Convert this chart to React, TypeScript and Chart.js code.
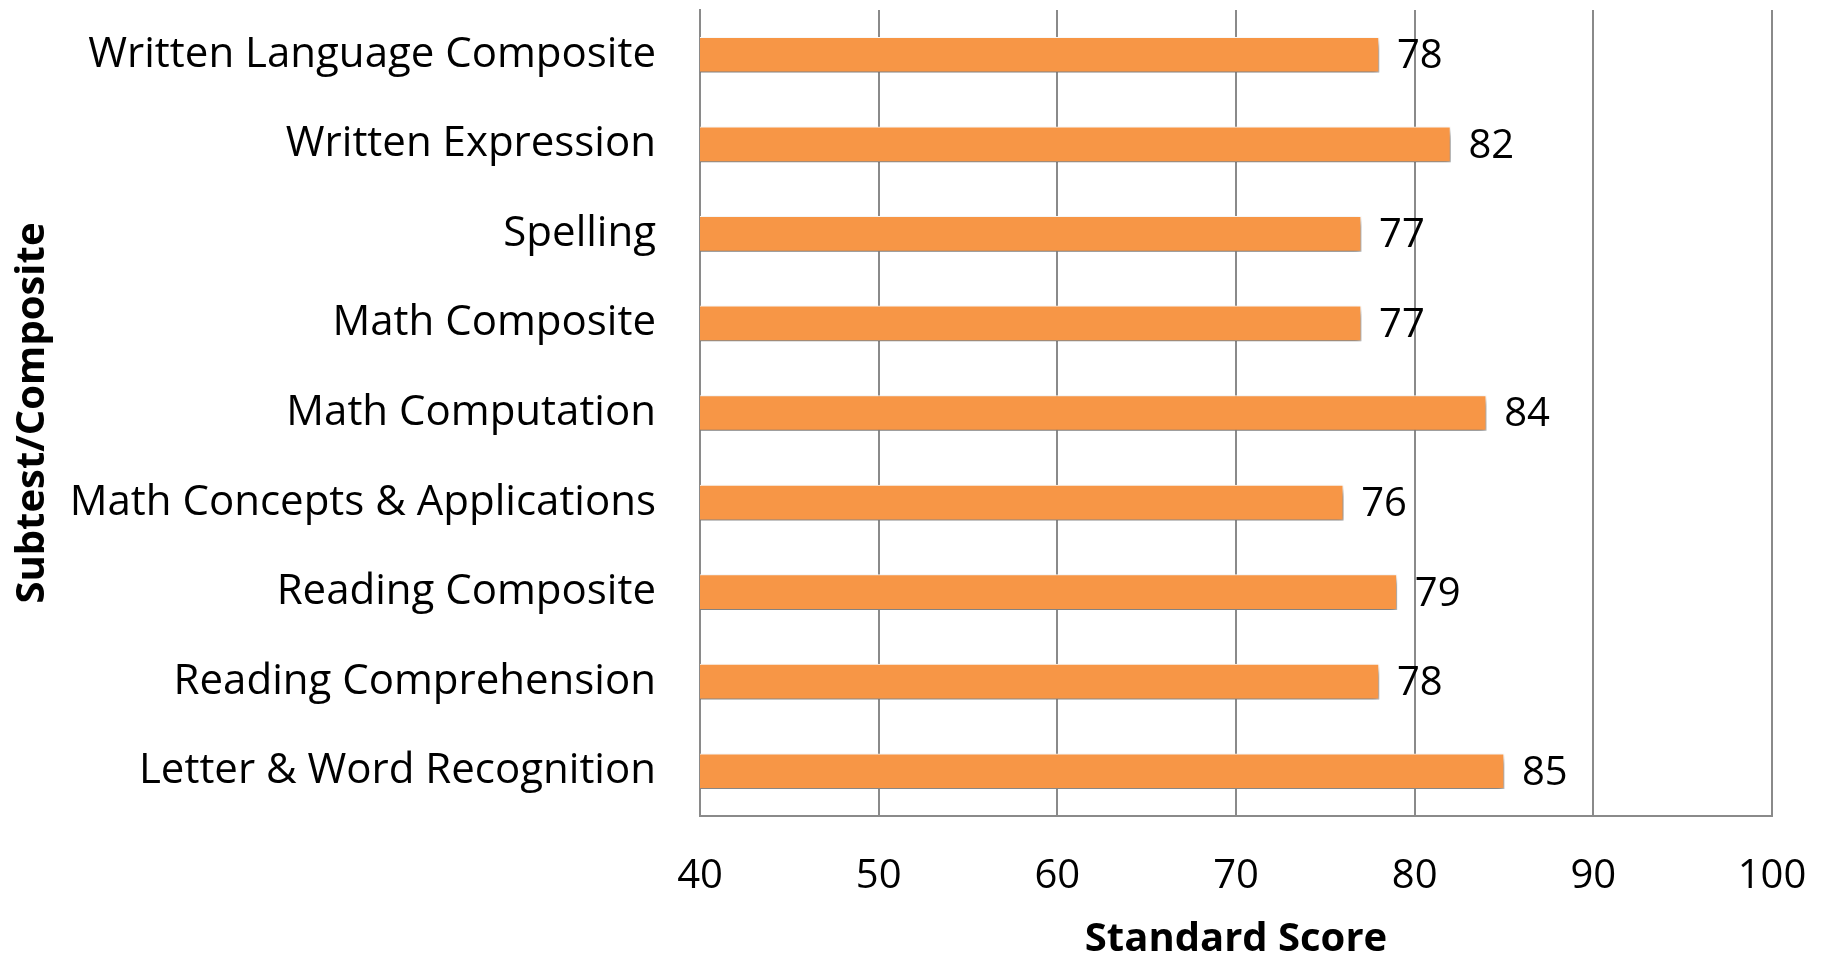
import React, { useEffect, useRef } from "react";
import { Chart, registerables } from "chart.js";

Chart.register(...registerables);

const categories = [
  "Written Language Composite",
  "Written Expression",
  "Spelling",
  "Math Composite",
  "Math Computation",
  "Math Concepts & Applications",
  "Reading Composite",
  "Reading Comprehension",
  "Letter & Word Recognition",
];
const scores = [78, 82, 77, 77, 84, 76, 79, 78, 85];
const xMin = 40;
const xMax = 100;
const xStep = 10;

const FONT = "'Open Sans', sans-serif";

const shadowPlugin = {
  id: "barShadow",
  beforeDatasetsDraw(chart: any) {
    const ctx = chart.ctx;
    ctx.save();
    ctx.shadowColor = "rgba(0,0,0,0.55)";
    ctx.shadowBlur = 7;
    ctx.shadowOffsetX = 2;
    ctx.shadowOffsetY = 5;
  },
  afterDatasetsDraw(chart: any) {
    chart.ctx.restore();
  },
};

const valueLabelPlugin = {
  id: "valueLabels",
  afterDatasetsDraw(chart: any) {
    const ctx = chart.ctx;
    const meta = chart.getDatasetMeta(0);
    ctx.save();
    ctx.font = `40px ${FONT}`;
    ctx.fillStyle = "#000";
    ctx.textAlign = "left";
    ctx.textBaseline = "middle";
    meta.data.forEach((bar: any, i: number) => {
      ctx.fillText(String(scores[i]), bar.x + 18, bar.y + 2);
    });
    ctx.restore();
  },
};

export default function App() {
  const ref = useRef<HTMLCanvasElement | null>(null);
  useEffect(() => {
    if (!ref.current) return;
    const chart = new Chart(ref.current, {
      type: "bar",
      data: {
        labels: categories,
        datasets: [
          {
            data: scores,
            backgroundColor: "#F79646",
            borderColor: "#ffffff",
            borderWidth: 1,
            barThickness: 35,
          },
        ],
      },
      options: {
        indexAxis: "y",
        animation: false,
        responsive: true,
        maintainAspectRatio: false,
        layout: { padding: { top: 10, right: 60, left: 0, bottom: 0 } },
        plugins: { legend: { display: false }, tooltip: { enabled: false } },
        scales: {
          x: {
            min: xMin,
            max: xMax,
            ticks: {
              stepSize: xStep,
              color: "#000",
              font: { family: FONT, size: 40 },
              padding: 37,
              maxRotation: 0,
            },
            grid: { color: "#8a8a8a", lineWidth: 2, drawTicks: false },
            border: { color: "#8a8a8a", width: 2 },
            title: {
              display: true,
              text: "Standard Score",
              color: "#000",
              font: { family: FONT, size: 40, weight: "bold" },
              padding: 0,
            },
            afterFit(scale: any) {
              scale.height = 148;
              scale.paddingLeft = 0;
              scale.paddingRight = 0;
            },
          },
          y: {
            ticks: {
              color: "#000",
              font: { family: FONT, size: 42 },
              padding: 44,
              autoSkip: false,
            },
            grid: { display: false, drawTicks: false },
            border: { color: "#8a8a8a", width: 2 },
            title: {
              display: true,
              text: "Subtest/Composite",
              color: "#000",
              font: { family: FONT, size: 40, weight: "bold" },
              padding: 9,
            },
            afterFit(scale: any) {
              scale.width = 700;
              scale.paddingTop = 0;
              scale.paddingBottom = 0;
            },
          },
        },
      },
      plugins: [shadowPlugin, valueLabelPlugin],
    } as any);
    return () => chart.destroy();
  }, []);
  return (
    <div style={{ position: "fixed", left: 0, top: 0, width: 1832, height: 964, background: "#fff" }}>
      <canvas ref={ref} />
    </div>
  );
}
